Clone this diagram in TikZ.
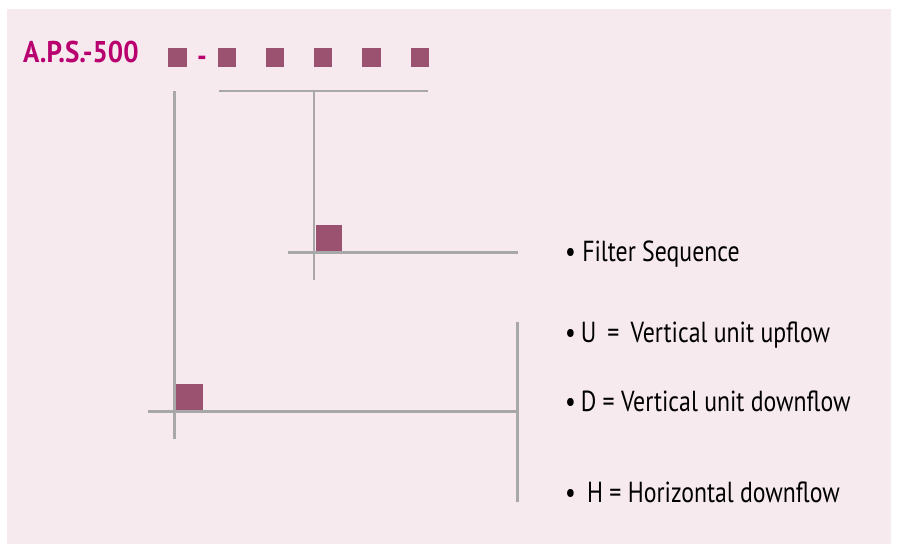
\documentclass[tikz,border=0pt]{standalone}
\usepackage{fontspec}
\setmainfont[FakeStretch=0.82]{PT Sans}
\newfontfamily\titlefont[FakeStretch=0.9]{PT Sans}
\usepackage{xcolor}
\usepackage{tikz}
\definecolor{panelpink}{RGB}{247,234,239}
\definecolor{codemagenta}{RGB}{184,0,110}
\definecolor{boxplum}{RGB}{155,82,112}
\definecolor{linegray}{RGB}{168,168,168}
\tikzset{
  slot/.style={fill=boxplum,minimum size=18.5pt,inner sep=0pt},
  bigslot/.style={fill=boxplum,minimum size=26.5pt,inner sep=0pt},
  guide/.style={draw=linegray,line width=2.6pt},
  item/.style={anchor=base west,inner sep=0pt,font=\fontsize{29}{31}\selectfont}
}

\begin{document}
\begin{tikzpicture}[x=1pt,y=-1pt]
% panel
\fill[white] (0,0) rectangle (897,544);
\fill[panelpink] (7,9) rectangle (891,544);
% model code
\node[anchor=base west,inner sep=0pt,text=codemagenta,font=\fontsize{30}{32}\titlefont\bfseries] (model) at (23,62) {A.P.S.-500};
\node[slot] (s1) at (177.5,57.5) {};
\node[anchor=base,text=codemagenta,font=\fontsize{30}{32}\titlefont\bfseries,inner sep=0pt] (dash) at (202,66) {-};
\node[slot] (s2) at (227,57.5) {};
\node[slot] (s3) at (275,57.5) {};
\node[slot] (s4) at (323,57.5) {};
\node[slot] (s5) at (371.5,57.5) {};
\node[slot] (s6) at (420,57.5) {};
% bracket over filter slots
\coordinate (barL) at (219,91);
\coordinate (barR) at (428,91);
\draw[guide] (barL) -- (barR);
% filter sequence branch
\coordinate (fTop) at (314,91);
\coordinate (fBot) at (314,280);
\coordinate (fL) at (288,252.5);
\coordinate (fR) at (518,252.5);
\draw[guide] (fTop) -- (fBot);
\draw[guide] (fL) -- (fR);
\node[bigslot,anchor=south west] (filter) at (315.3,251.2) {};
% unit type branch
\coordinate (uTop) at (174.5,91);
\coordinate (uBot) at (174.5,439);
\coordinate (uL) at (148,411.5);
\coordinate (uR) at (517.5,411.5);
\draw[guide] (uTop) -- (uBot);
\draw[guide] (uL) -- (uR);
\node[bigslot,anchor=south west] (unit) at (175.8,410.2) {};
\coordinate (brT) at (517.5,321.5);
\coordinate (brB) at (517.5,502);
\draw[guide] (brT) -- (brB);
% descriptions
\node[item] (seq) at (565,261.5) {\textbullet\ Filter Sequence};
\node[item] (up) at (565,342) {\textbullet\,U \,=\, Vertical unit upflow};
\node[item] (down) at (565,411.5) {\textbullet\,D = Vertical unit downflow};
\node[item] (hor) at (565,502) {\textbullet\ \,H = Horizontal downflow};
\end{tikzpicture}
\end{document}
